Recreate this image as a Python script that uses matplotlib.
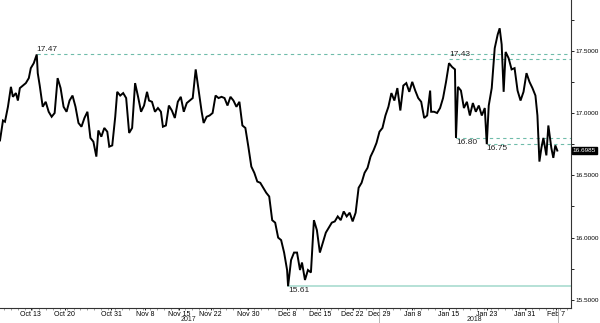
import matplotlib.pyplot as plt
from matplotlib.ticker import MultipleLocator

plt.rcParams['font.family'] = ['Liberation Sans Narrow', 'Liberation Sans', 'DejaVu Sans']

# time axis in session units (0 = left edge of chart, 575 = right edge)
t = [0, 3, 5, 8, 11, 13, 16, 18, 20, 23, 26, 29, 31, 34, 37, 38, 40, 43, 46, 49,
     52, 55, 58, 61, 64, 67, 70, 73, 76, 79, 82, 85, 88, 91, 94, 97, 99, 102, 105, 108,
     110, 113, 116, 118, 121, 124, 127, 130, 133, 136, 139, 142, 145, 148, 150, 153, 156, 159, 162, 164,
     167, 170, 173, 176, 179, 182, 185, 188, 191, 194, 197, 200, 203, 205, 208, 211, 214, 217, 220, 223,
     226, 229, 232, 235, 238, 241, 244, 247, 250, 253, 256, 259, 262, 265, 268, 271, 274, 277, 280, 283,
     286, 289, 290, 293, 296, 299, 302, 304, 307, 310, 313, 316, 319, 322, 325, 328, 331, 334, 337, 340,
     343, 346, 349, 352, 355, 358, 361, 364, 367, 370, 373, 376, 379, 382, 385, 388, 391, 394, 397, 400,
     403, 406, 409, 412, 415, 418, 421, 424, 427, 430, 433, 434, 437, 440, 443, 446, 449, 452, 455, 458,
     459, 461, 464, 467, 470, 473, 476, 479, 482, 485, 488, 490, 492, 495, 498, 501, 503, 505, 507, 509,
     512, 515, 518, 521, 524, 527, 530, 533, 536, 539, 541, 543, 545, 547, 550, 552, 555, 557, 559, 561]
price = [16.78, 16.94, 16.93, 17.05, 17.21, 17.13, 17.16, 17.10, 17.20, 17.22, 17.24, 17.28, 17.36, 17.40, 17.47, 17.32, 17.22, 17.05, 17.09, 17.01,
         16.97, 17.00, 17.28, 17.20, 17.05, 17.01, 17.10, 17.14, 17.05, 16.92, 16.89, 16.96, 17.01, 16.80, 16.77, 16.65, 16.86, 16.81, 16.88, 16.85,
         16.73, 16.74, 16.97, 17.17, 17.14, 17.16, 17.12, 16.84, 16.88, 17.24, 17.13, 17.01, 17.06, 17.17, 17.10, 17.09, 17.01, 17.04, 17.01, 16.89,
         16.90, 17.06, 17.02, 16.96, 17.09, 17.13, 17.01, 17.08, 17.10, 17.12, 17.35, 17.18, 17.01, 16.92, 16.97, 16.98, 17.00, 17.14, 17.12, 17.13,
         17.12, 17.06, 17.13, 17.10, 17.05, 17.09, 16.90, 16.88, 16.73, 16.57, 16.52, 16.45, 16.44, 16.40, 16.36, 16.33, 16.14, 16.12, 16.00, 15.98,
         15.88, 15.74, 15.61, 15.82, 15.88, 15.88, 15.74, 15.80, 15.66, 15.74, 15.72, 16.14, 16.06, 15.88, 15.96, 16.04, 16.08, 16.12, 16.13, 16.17,
         16.14, 16.21, 16.17, 16.20, 16.13, 16.20, 16.40, 16.44, 16.52, 16.56, 16.65, 16.70, 16.76, 16.85, 16.88, 16.98, 17.05, 17.16, 17.10, 17.20,
         17.02, 17.22, 17.24, 17.17, 17.25, 17.18, 17.12, 17.09, 16.96, 16.98, 17.18, 17.01, 17.01, 17.00, 17.04, 17.12, 17.25, 17.40, 17.37, 17.35,
         16.80, 17.21, 17.18, 17.04, 17.09, 16.98, 17.08, 17.01, 17.06, 16.98, 17.04, 16.75, 17.06, 17.20, 17.52, 17.63, 17.68, 17.55, 17.17, 17.49,
         17.44, 17.35, 17.36, 17.18, 17.10, 17.17, 17.32, 17.25, 17.20, 17.14, 16.98, 16.61, 16.72, 16.80, 16.66, 16.90, 16.72, 16.64, 16.74, 16.6985]

tick_pos = [31, 65, 112, 146, 180, 212, 250, 289, 322, 355, 382, 415, 452, 490, 528, 560]
tick_labels = ["Oct 13", "Oct 20", "Oct 31", "Nov 8", "Nov 15", "Nov 22", "Nov 30", "Dec 8",
               "Dec 15", "Dec 22", "Dec 29", "Jan 8", "Jan 15", "Jan 23", "Jan 31", "Feb 7"]
years = [("2017", 190), ("2018", 478)]
year_breaks = [382, 562]

# annotated levels: (value, start, label side, dashed?)
levels = [(17.47, 37, "above", True), (17.43, 452, "above", True),
          (16.80, 459, "below", True), (16.75, 490, "below", True),
          (15.61, 290, "below", False)]
last_value = 16.6985

fig = plt.figure(figsize=(6, 3.23), dpi=100)
ax = fig.add_axes([0, 0.0464, 0.952, 0.9536])

ax.plot(t, price, color="black", lw=1.4, solid_joinstyle="miter")

for val, x0, side, dashed in levels:
    if dashed:
        ax.plot([x0, 575], [val, val], color="#6fbcaa", lw=0.8, ls=(0, (3, 3)), zorder=1)
    else:
        ax.plot([x0, 575], [val, val], color="#a9dccf", lw=1.2, zorder=1)
    dy = 0.01 if side == "above" else -0.01
    ax.text(x0, val + dy, f"{val:.2f}", fontsize=6, ha="left",
            va="bottom" if side == "above" else "top", color="#222222")

# grey drop lines from the lows to their level labels
for val, x0 in [(16.80, 459), (16.75, 490)]:
    ax.plot([x0, x0], [val, val + 0.09], color="#999999", lw=0.7, zorder=1)

ax.set_xlim(0, 575)
ax.set_ylim(15.435, 17.907)

ax.spines["left"].set_visible(False)
ax.spines["top"].set_visible(False)
ax.spines["right"].set_color("#333333")
ax.spines["bottom"].set_color("#333333")
ax.spines["right"].set_linewidth(0.8)
ax.spines["bottom"].set_linewidth(0.8)

ax.yaxis.tick_right()
ax.yaxis.set_major_locator(MultipleLocator(0.5))
ax.yaxis.set_minor_locator(MultipleLocator(0.25))
ax.yaxis.set_major_formatter(plt.FuncFormatter(lambda v, p: f"{v:.4f}"))
ax.tick_params(axis="y", which="major", labelsize=4.6, length=2.5, width=0.6, pad=0.4)
ax.tick_params(axis="y", which="minor", length=2, width=0.6)

ax.set_xticks(tick_pos)
ax.set_xticklabels(tick_labels)
ax.set_xticks(range(4, 575, 7), minor=True)
ax.tick_params(axis="x", which="major", labelsize=5, length=1.5, width=0.6, pad=0.3)
ax.tick_params(axis="x", which="minor", length=1.5, width=0.5, color="#777777")

for lbl, xp in years:
    ax.text(xp, -0.038, lbl, transform=ax.get_xaxis_transform(), fontsize=5,
            ha="center", va="center", color="#222222")
for xb in year_breaks:
    ax.plot([xb, xb], [0, -0.05], transform=ax.get_xaxis_transform(), color="#aaaaaa",
            lw=0.6, clip_on=False)

ax.text(576.5, last_value, f"{last_value:.4f}", fontsize=4.6, color="white", ha="left",
        va="center", bbox=dict(boxstyle="square,pad=0.12", fc="black", ec="black"),
        clip_on=False)

fig.savefig("out.png", dpi=100)
